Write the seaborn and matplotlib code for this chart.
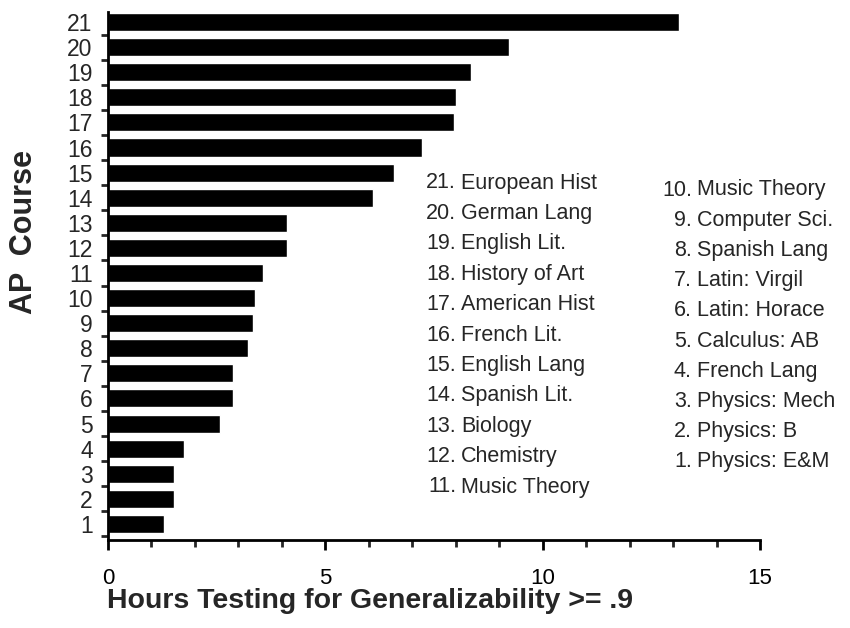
import matplotlib
matplotlib.use("Agg")
import matplotlib.pyplot as plt
import seaborn as sns
import pandas as pd
from matplotlib.ticker import MultipleLocator, FixedLocator

# AP courses, numbered 1..21 (bar values)
course_num = [str(i) for i in range(1, 22)]
hours = [1.29, 1.52, 1.52, 1.75, 2.58, 2.88, 2.88, 3.23, 3.34, 3.39,
         3.57, 4.12, 4.12, 6.10, 6.59, 7.23, 7.97, 8.00, 8.36, 9.22, 13.13]
course_names = ["Physics: E&M", "Physics: B", "Physics: Mech", "French Lang",
                "Calculus: AB", "Latin: Horace", "Latin: Virgil", "Spanish Lang",
                "Computer Sci.", "Music Theory", "Music Theory", "Chemistry",
                "Biology", "Spanish Lit.", "English Lang", "French Lit.",
                "American Hist", "History of Art", "English Lit.", "German Lang",
                "European Hist"]

df = pd.DataFrame({"course": course_num, "hours": hours})
order = course_num[::-1]

sns.set_style("ticks")
plt.rcParams["font.family"] = ["Liberation Sans", "DejaVu Sans"]

W, H = 850, 628
fig = plt.figure(figsize=(W / 100, H / 100), dpi=100)
ax = fig.add_axes([108 / W, 1 - 540 / H, (760 - 108) / W, (540 - 12) / H])

sns.barplot(data=df, x="hours", y="course", order=order, orient="h",
            color="black", width=0.72, ax=ax, saturation=1)

ax.set_xlim(0, 15)
ax.set_ylim(20.64, -0.4)

# spines
sns.despine(ax=ax)
for s in ["left", "bottom"]:
    ax.spines[s].set_linewidth(2)
    ax.spines[s].set_color("black")

# x ticks
ax.xaxis.set_major_locator(MultipleLocator(5))
ax.xaxis.set_minor_locator(MultipleLocator(1))
ax.tick_params(axis="x", which="major", length=7, width=2, direction="out",
               labelsize=16, pad=13, colors="black")
ax.tick_params(axis="x", which="minor", length=5, width=2, direction="out")

# y ticks: labels at bar centres, tick marks between bars
ax.tick_params(axis="y", which="major", length=0, labelsize=16.5, pad=11)
ax.yaxis.set_minor_locator(FixedLocator([i + 0.5 for i in range(-1, 21)]))
ax.tick_params(axis="y", which="minor", length=5, width=2, direction="out")

ax.set_xlabel("")
ax.set_ylabel("")
fig.text(107 / W, 1 - 601 / H, "Hours Testing for Generalizability >= .9",
         ha="left", va="center", fontsize=20.5, fontweight="bold")
fig.text(24 / W, 1 - 232 / H, "AP  Course", rotation=90, ha="center",
         va="center", fontsize=22, fontweight="bold")

# course key, two columns
fs = 15.5
for k, i in enumerate(range(20, 9, -1)):
    y = 1 - (183 + k * 30.4) / H
    fig.text(456 / W, y, f"{course_num[i]}.", ha="right", va="center", fontsize=fs)
    fig.text(461 / W, y, course_names[i], ha="left", va="center", fontsize=fs)
for k, i in enumerate(range(9, -1, -1)):
    y = 1 - (190 + k * 30.2) / H
    fig.text(692 / W, y, f"{course_num[i]}.", ha="right", va="center", fontsize=fs)
    fig.text(697 / W, y, course_names[i], ha="left", va="center", fontsize=fs)

fig.savefig("out.png", dpi=100)
